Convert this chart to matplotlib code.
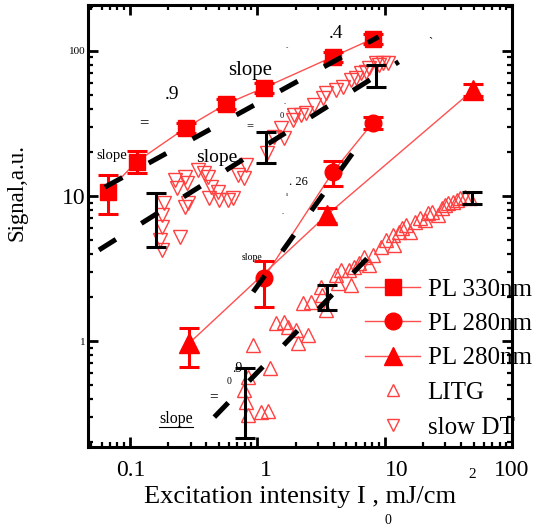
import matplotlib
matplotlib.use("Agg")
import matplotlib.pyplot as plt
import matplotlib.transforms as mtransforms
from matplotlib.lines import Line2D
from matplotlib.ticker import NullFormatter

plt.rcParams['font.family'] = ['Liberation Serif', 'DejaVu Serif']

# PL 330nm (filled squares)
pl330_x = [0.067, 0.113, 0.274, 0.573, 1.13, 3.92, 8.06]
pl330_y = [10.7, 17.2, 29.4, 43.1, 55.6, 90.9, 121]
pl330_lo = [3.2, 2.8, 2.3, 3.3, 4.2, 6.5, 9]
pl330_hi = [3.3, 3.2, 2.5, 3.6, 4.6, 7.2, 10]

# PL 280nm (filled circles)
pl280c_x = [1.13, 3.92, 8.06]
pl280c_y = [2.72, 14.6, 31.9]
pl280c_lo = [1.0, 2.9, 2.8]
pl280c_hi = [0.84, 2.8, 3.2]

# PL 280nm (filled triangles)
pl280t_x = [0.294, 3.52, 49.6]
pl280t_y = [0.97, 7.39, 53.8]
pl280t_lo = [0.31, 0.9, 5]
pl280t_hi = [0.26, 0.9, 5]

# LITG (open up triangles)
litg_x = [0.791, 0.821, 0.851, 0.851, 0.931, 1.075, 1.219, 1.264, 1.407, 1.625,
          1.746, 2.017, 2.091, 2.288, 2.503, 2.642, 3.162, 3.25, 3.459, 4.14,
          4.29, 4.53, 5.23, 5.42, 5.73, 6.26, 6.85, 7.50, 8.06, 9.31,
          10.2, 11.55, 11.75, 12.9, 13.82, 14.6, 15.96, 17.47, 19.1, 20.9,
          22.1, 23.7, 26.4, 28.4, 30.0, 31.6, 34.6, 37.2, 39.2, 42.9, 47.0]
litg_y = [0.459, 0.380, 0.565, 0.309, 0.938, 0.324, 0.329, 0.651, 1.331, 1.352,
          1.249, 1.191, 0.969, 1.828, 1.100, 1.857, 2.36, 2.08, 1.636, 2.85,
          2.51, 3.09, 3.09, 2.43, 3.24, 3.45, 3.80, 3.34, 3.92, 4.45,
          4.97, 5.38, 4.59, 5.65, 6.02, 6.31, 5.65, 6.62, 7.05, 6.83,
          7.64, 7.76, 7.39, 8.26, 8.67, 8.95, 9.10, 9.38, 9.69, 9.84, 9.69]

# slow DT (open down triangles)
sdt_x = [0.1715, 0.178, 0.178, 0.178, 0.1845, 0.225, 0.233, 0.246, 0.269, 0.269,
         0.279, 0.289, 0.346, 0.385, 0.414, 0.422, 0.437, 0.496, 0.505, 0.593,
         0.649, 0.711, 0.791, 0.821, 1.197, 1.358, 1.540, 1.625, 1.910, 1.946,
         2.207, 2.414, 2.79, 3.28, 3.46, 4.14, 4.70, 5.42, 5.93, 6.49,
         7.11, 7.50, 8.51, 8.98, 9.65, 10.55]
sdt_y = [4.97, 7.39, 6.11, 4.24, 8.95, 12.9, 11.36, 5.21, 13.5, 8.40,
         12.3, 8.95, 15.1, 14.4, 13.5, 9.69, 11.5, 10.7, 9.38, 9.38,
         9.69, 13.96, 13.3, 16.4, 19.8, 25.5, 29.4, 25.1, 33.4, 36.2,
         36.2, 37.4, 42.4, 47.4, 51.3, 53.8, 56.5, 63.1, 65.2, 70.5,
         71.7, 76.3, 82.6, 80.0, 82.6, 82.6]

# black error bars (low / high ends)
bar_x = [0.1596, 1.176, 8.51, 0.806, 3.52, 48.7]
bar_lo = [4.45, 16.9, 56.5, 0.214, 1.636, 8.81]
bar_hi = [10.5, 27.6, 80.0, 0.651, 2.43, 10.7]

# dashed power-law fits (end points)
fit_x = [[0.0638, 8.98], [0.0573, 12.9], [0.93, 7.1], [0.461, 7.36]]
fit_y = [[11.5, 125], [4.24, 84.0], [2.18, 26.3], [0.299, 3.74]]

W, H = 538, 529
fig = plt.figure(figsize=(W / 100, H / 100), dpi=100)
ax = fig.add_axes([88 / W, 1 - 447 / H, (512 - 88) / W, (447 - 5) / H])

red = '#ff0000'
thin_red = '#ff5050'
open_red = '#ff4040'

ekw = dict(ecolor=red, elinewidth=2.2, capsize=7, capthick=2.2, ls='none')
ax.plot(pl330_x, pl330_y, color=thin_red, lw=1)
ax.errorbar(pl330_x, pl330_y, yerr=[pl330_lo, pl330_hi], marker='s', ms=12,
            mfc=red, mec=red, **ekw)
ax.plot(pl280c_x, pl280c_y, color=thin_red, lw=1)
ax.errorbar(pl280c_x, pl280c_y, yerr=[pl280c_lo, pl280c_hi], marker='o', ms=12,
            mfc=red, mec=red, **ekw)
ax.plot(pl280t_x, pl280t_y, color=thin_red, lw=1)
ax.errorbar(pl280t_x, pl280t_y, yerr=[pl280t_lo, pl280t_hi], marker='^', ms=15,
            mfc=red, mec=red, **ekw)

ax.plot(litg_x, litg_y, ls='none', marker='^', ms=10, mfc='none', mec=open_red, mew=1)
ax.plot(sdt_x, sdt_y, ls='none', marker='v', ms=10, mfc='none', mec=open_red, mew=1)

bar_c = [(a + b) / 2 for a, b in zip(bar_lo, bar_hi)]
bar_e = [(b - a) / 2 for a, b in zip(bar_lo, bar_hi)]
ax.errorbar(bar_x, bar_c, yerr=bar_e, fmt='none', ecolor='k', elinewidth=2.2,
            capsize=7, capthick=2.2, zorder=5)

for fx, fy in zip(fit_x, fit_y):
    ax.plot(fx, fy, color='k', lw=3.6, dashes=(4, 6), dash_capstyle='butt', zorder=6)

ax.set_xscale('log')
ax.set_yscale('log')
ax.set_xlim(0.047, 100)
ax.set_ylim(0.186, 207)

for s in ax.spines.values():
    s.set_linewidth(2.2)
ax.tick_params(which='both', direction='in', top=True, right=True, width=2)
ax.tick_params(which='major', length=7)
ax.tick_params(which='minor', length=3.5, width=1.6)

ax.set_xticks([0.1, 1, 10, 100])
ax.set_xticklabels(['0.1', '1', '10', '100'], fontsize=17)
ax.set_yticks([1, 10, 100])
ax.set_yticklabels(['1', '10', '100'])
ax.xaxis.set_minor_formatter(NullFormatter())
ax.yaxis.set_minor_formatter(NullFormatter())
ax.tick_params(axis='x', pad=9)
ax.tick_params(axis='y', pad=2)
for lbl, fs in zip(ax.get_yticklabels(), [8, 17, 8]):
    lbl.set_fontsize(fs)
for tick, dx in zip(ax.xaxis.get_major_ticks(), [1, 9, 12, 0]):
    off = mtransforms.ScaledTranslation(dx / 100, 0, fig.dpi_scale_trans)
    tick.label1.set_transform(tick.label1.get_transform() + off)

ax.set_xlabel('Excitation intensity I , mJ/cm', fontsize=19, labelpad=4)
ax.set_ylabel('Signal,a.u.', fontsize=16.5)
ax.yaxis.set_label_coords(-0.143, 0.575)

handles = [
    Line2D([], [], color=thin_red, lw=1, marker='s', ms=11, mfc=red, mec=red),
    Line2D([], [], color=thin_red, lw=1, marker='o', ms=12, mfc=red, mec=red),
    Line2D([], [], color=thin_red, lw=1, marker='^', ms=13, mfc=red, mec=red),
    Line2D([], [], ls='none', marker='^', ms=9, mfc='none', mec=open_red, mew=1),
    Line2D([], [], ls='none', marker='v', ms=9, mfc='none', mec=open_red, mew=1),
]
ax.legend(handles, ['PL 330nm', 'PL 280nm', 'PL 280nm', 'LITG', 'slow DT'],
          loc='upper left', bbox_to_anchor=(365 / W, 1 - 278 / H),
          bbox_transform=fig.transFigure, frameon=False, fontsize=18,
          handlelength=2.2, handletextpad=0.3, labelspacing=0.48,
          borderpad=0, borderaxespad=0)


def note(x, y, s, size):
    fig.text(x / W, 1 - y / H, s, fontsize=size, ha='center', va='center')


# slope annotations
note(250, 71, 'slope', 15)
note(172, 95, '.9', 14)
note(144, 123, '=', 12)
note(112, 155, 'slope', 10.5)
note(217, 158, 'slope', 14)
note(250, 126, '=', 9)
note(336, 33, '.4', 14)
note(287, 48, '-', 5)
note(430, 43, '`', 9)
note(285, 102, '.', 6)
note(287, 110, ':', 5)
note(282, 116, '0', 6)
note(298, 182, '. 26', 9)
note(287, 195, 'ı', 5)
note(283, 212, '.', 6)
note(252, 258, 'slope', 7)
note(237, 369, '.9', 10)
note(229, 382, '0', 7)
note(214, 397, '=', 11)
note(176, 419, 'slope', 11.5)
fig.add_artist(Line2D([159 / W, 193 / W], [1 - 427 / H, 1 - 427 / H], color='k', lw=0.8))
note(472, 475, '2', 11)
note(388, 520, '0', 10)

fig.savefig('out.png', dpi=100)
